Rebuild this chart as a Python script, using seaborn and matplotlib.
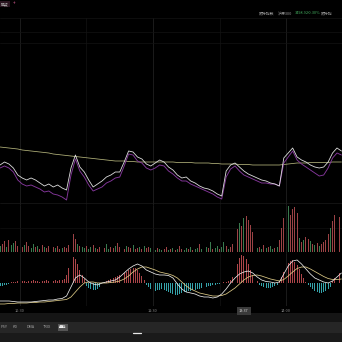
import numpy as np
import matplotlib
matplotlib.use("Agg")
import matplotlib.pyplot as plt
import seaborn as sns
from matplotlib.patches import Rectangle
from matplotlib.lines import Line2D

# ---------------- data ----------------
# time axis: one slot per trading minute (visible window ~10:21 -> 14:25, lunch removed)
tick_pos = [9, 69, 129]
tick_labels = ["10:30", "11:30", "14:00"]
cursor_pos = 110
cursor_label = "13:37"

# intraday lines, sampled every 2 minutes (relative units)
price = [0.35, 0.38, 0.36, 0.32, 0.25, 0.22, 0.20, 0.22, 0.20, 0.17,
         0.14, 0.16, 0.13, 0.15, 0.12, 0.10, 0.32, 0.45, 0.33, 0.28,
         0.20, 0.13, 0.16, 0.19, 0.23, 0.25, 0.28, 0.28, 0.38, 0.49,
         0.48, 0.43, 0.41, 0.36, 0.34, 0.37, 0.40, 0.38, 0.33, 0.30,
         0.25, 0.22, 0.23, 0.19, 0.17, 0.14, 0.12, 0.11, 0.09, 0.06,
         0.04, 0.29, 0.35, 0.37, 0.33, 0.29, 0.26, 0.24, 0.22, 0.20,
         0.19, 0.17, 0.16, 0.14, 0.42, 0.47, 0.52, 0.43, 0.40, 0.38,
         0.35, 0.33, 0.32, 0.33, 0.38, 0.47, 0.52, 0.49]
index_line = [0.32, 0.34, 0.32, 0.28, 0.20, 0.16, 0.14, 0.15, 0.13, 0.11,
              0.08, 0.09, 0.06, 0.05, 0.03, 0.00, 0.25, 0.41, 0.29, 0.23,
              0.15, 0.09, 0.11, 0.13, 0.17, 0.19, 0.22, 0.23, 0.34, 0.46,
              0.45, 0.39, 0.37, 0.32, 0.30, 0.32, 0.35, 0.34, 0.29, 0.26,
              0.22, 0.19, 0.19, 0.16, 0.14, 0.12, 0.10, 0.08, 0.06, 0.03,
              0.01, 0.23, 0.31, 0.34, 0.29, 0.25, 0.23, 0.21, 0.19, 0.17,
              0.17, 0.16, 0.16, 0.14, 0.37, 0.43, 0.49, 0.40, 0.36, 0.33,
              0.30, 0.27, 0.24, 0.25, 0.32, 0.42, 0.47, 0.45]
avg_line = [0.530, 0.525, 0.520, 0.515, 0.510, 0.500, 0.495, 0.490, 0.485, 0.480,
            0.475, 0.470, 0.460, 0.455, 0.450, 0.445, 0.440, 0.435, 0.430, 0.425,
            0.420, 0.415, 0.410, 0.405, 0.400, 0.395, 0.390, 0.390, 0.390, 0.385,
            0.385, 0.380, 0.380, 0.380, 0.380, 0.380, 0.380, 0.380, 0.380, 0.380,
            0.375, 0.375, 0.375, 0.375, 0.370, 0.370, 0.370, 0.370, 0.365, 0.365,
            0.360, 0.360, 0.360, 0.360, 0.355, 0.355, 0.355, 0.350, 0.350, 0.350,
            0.350, 0.350, 0.350, 0.350, 0.355, 0.360, 0.365, 0.370, 0.370, 0.370,
            0.375, 0.375, 0.375, 0.375, 0.375, 0.380, 0.380, 0.380]

# per-minute volume and direction (1 = up/red, 0 = down/green)
volume = [6, 8, 11, 5, 12, 7, 9, 11, 6, 8,
          5, 7, 10, 6, 4, 8, 5, 6, 3, 7,
          5, 4, 6, 3, 5, 4, 6, 3, 4, 5,
          4, 7, 12, 18, 13, 8, 6, 5, 4, 6,
          3, 5, 7, 4, 3, 5, 6, 4, 8, 3,
          5, 4, 6, 9, 5, 4, 3, 6, 5, 4,
          7, 3, 4, 5, 3, 6, 4, 5, 4, 3,
          2, 4, 3, 2, 3, 5, 2, 3, 4, 2,
          3, 6, 3, 2, 4, 3, 5, 2, 3, 4,
          8, 3, 2, 5, 4, 10, 3, 4, 6, 3,
          5, 10, 6, 3, 5, 8, 15, 24, 30, 27,
          35, 37, 33, 28, 20, 6, 4, 5, 3, 7,
          4, 5, 6, 3, 4, 5, 12, 25, 35, 42,
          47, 38, 44, 46, 40, 14, 10, 12, 15, 13,
          11, 8, 7, 9, 6, 8, 10, 12, 18, 25,
          32, 38, 42, 36]
vol_up = [0, 1, 1, 0, 1, 0, 0, 1, 1, 0,
          1, 0, 1, 1, 0, 0, 1, 0, 1, 1,
          0, 1, 1, 0, 1, 0, 1, 1, 0, 1,
          1, 1, 1, 1, 1, 0, 1, 0, 0, 1,
          0, 0, 1, 0, 1, 1, 0, 1, 0, 0,
          1, 1, 0, 1, 1, 0, 1, 0, 1, 1,
          0, 1, 1, 0, 1, 0, 1, 1, 0, 1,
          0, 1, 0, 0, 1, 1, 0, 1, 0, 1,
          0, 1, 1, 0, 0, 1, 0, 1, 0, 0,
          1, 0, 1, 0, 1, 0, 1, 0, 0, 1,
          0, 0, 1, 0, 1, 1, 1, 1, 0, 1,
          0, 1, 1, 1, 1, 0, 0, 1, 0, 1,
          0, 1, 0, 0, 1, 0, 1, 1, 1, 1,
          0, 1, 1, 1, 1, 0, 1, 0, 1, 1,
          0, 1, 0, 1, 0, 1, 1, 1, 1, 0,
          1, 1, 1, 1]

# MACD lines sampled every 2 minutes, histogram per minute (x0.01)
macd_dif = [-0.18, -0.18, -0.18, -0.185, -0.19, -0.19, -0.19, -0.19, -0.185, -0.18,
            -0.175, -0.17, -0.17, -0.16, -0.155, -0.13, -0.04, 0.05, 0.08, 0.05,
            0.01, -0.01, -0.02, 0.00, 0.01, 0.02, 0.03, 0.06, 0.10, 0.14,
            0.17, 0.19, 0.17, 0.13, 0.11, 0.09, 0.08, 0.08, 0.075, 0.05,
            -0.01, -0.06, -0.09, -0.10, -0.11, -0.13, -0.14, -0.14, -0.15, -0.14,
            -0.11, -0.06, 0.00, 0.05, 0.09, 0.11, 0.12, 0.10, 0.06, 0.03,
            0.015, 0.01, 0.00, 0.01, 0.09, 0.17, 0.22, 0.23, 0.19, 0.14,
            0.09, 0.05, 0.03, 0.01, 0.00, 0.02, 0.06, 0.10]
macd_dea = [-0.21, -0.21, -0.205, -0.205, -0.20, -0.20, -0.20, -0.195, -0.195, -0.19,
            -0.19, -0.185, -0.18, -0.175, -0.17, -0.165, -0.14, -0.09, -0.04, 0.00,
            0.01, 0.01, 0.00, 0.00, 0.00, 0.005, 0.01, 0.02, 0.04, 0.07,
            0.11, 0.14, 0.16, 0.16, 0.145, 0.13, 0.11, 0.10, 0.09, 0.075,
            0.05, 0.01, -0.03, -0.06, -0.08, -0.10, -0.11, -0.12, -0.13, -0.13,
            -0.125, -0.11, -0.08, -0.05, -0.01, 0.03, 0.06, 0.075, 0.08, 0.07,
            0.055, 0.04, 0.03, 0.02, 0.035, 0.07, 0.11, 0.145, 0.16, 0.16,
            0.14, 0.115, 0.09, 0.065, 0.045, 0.035, 0.035, 0.04]
macd_hist = [-3, -3, -2, -2, -1, 1, 1, 1, 2, 1,
             2, 2, 1, 2, 2, 3, 2, 2, 1, 2,
             2, 3, 2, 2, 2, 3, 2, 3, 3, 4,
             8, 15, 22, 26, 24, 19, 13, 8, 4, -3,
             -5, -6, -7, -7, -6, -4, -2, 1, 2, 3,
             4, 5, 6, 7, 8, 9, 10, 11, 13, 14,
             15, 15, 13, 10, 7, 3, -2, -4, -6, -7,
             -8, -7, -7, -6, -7, -8, -9, -10, -11, -12,
             -12, -11, -10, -9, -9, -8, -8, -7, -7, -6,
             -6, -5, -5, -4, -3, -3, -2, -2, -1, -1,
             0, 1, 1, 2, 3, 6, 12, 19, 25, 28,
             27, 24, 19, 13, 8, 4, 2, -2, -3, -4,
             -5, -5, -5, -4, -3, -2, 2, 6, 11, 16,
             20, 22, 23, 21, 18, 14, 9, 5, 1, -2,
             -4, -6, -8, -9, -10, -10, -9, -8, -6, -4,
             2, 5, 7, 10]

index_label = "跟踪指数"
index_name = "沪深300"
index_value = "3498.92"
index_change = "-0.30%"
tabs = ["PSY", "KD", "DMA", "TRIX", "量能"]
tab_x = [4.5, 15, 31, 46.5, 63]

# ---------------- style ----------------
sns.set_theme(style="dark", rc={"axes.facecolor": "black", "figure.facecolor": "black",
                                "savefig.facecolor": "black"})
plt.rcParams['font.family'] = ['Noto Sans CJK SC', 'DejaVu Sans']

W = H = 342
fig = plt.figure(figsize=(3.42, 3.42), dpi=100, facecolor="black")


def fx(px):
    return px / W


def fy(py):
    return 1 - py / H


def ax_at(top, bottom):
    ax = fig.add_axes([0, fy(bottom), 1, (bottom - top) / H])
    ax.set_facecolor("black")
    for s in ax.spines.values():
        s.set_visible(False)
    ax.set_xlim(-0.02, 154.26)
    ax.set_xticks([])
    ax.set_yticks([])
    ax.grid(False)
    return ax


ax_p = ax_at(18, 205)
ax_v = ax_at(205, 253)
ax_m = ax_at(253, 306)

for ax in (ax_p, ax_v, ax_m):
    for xp in tick_pos:
        ax.axvline(xp, color="#262626", lw=0.5, zorder=0)
    for xp in (39, 99):
        ax.axvline(xp, color="#141414", lw=0.5, zorder=0)

# main panel
x2 = np.arange(len(price)) * 2
ax_p.set_ylim(-0.05, 1.82)
for yv in (1.82, 1.68, 1.57):
    ax_p.axhline(yv, color="#141414", lw=0.5, zorder=0)
ax_p.axhline(-0.03, color="#1a1a1a", lw=0.5, zorder=0)
sns.lineplot(x=np.arange(len(avg_line)) * 2, y=avg_line, ax=ax_p, color="#b5b57c", lw=0.55)
sns.lineplot(x=np.arange(len(index_line)) * 2, y=index_line, ax=ax_p, color="#85379c", lw=0.65)
sns.lineplot(x=x2, y=price, ax=ax_p, color="#dcdcdc", lw=0.6)
ax_p.set_xlim(-0.02, 154.26)

# volume panel
xv = np.arange(len(volume))
vcol = ["#9c4245" if u else "#397a4e" for u in vol_up]
ax_v.bar(xv, volume, width=0.42, color=vcol, linewidth=0)
ax_v.set_ylim(-1, 48)
ax_v.axhline(-0.5, color="#1a1a1a", lw=0.5, zorder=0)
ax_v.axhline(25, color="#111111", lw=0.5, zorder=0)

# MACD panel
xm = np.arange(len(macd_hist))
hist = np.array(macd_hist) / 100.0
hcol = ["#ad4549" if h >= 0 else "#35a3aa" for h in hist]
ax_m.bar(xm, hist, width=0.42, color=hcol, linewidth=0)
sns.lineplot(x=np.arange(len(macd_dea)) * 2, y=macd_dea, ax=ax_m, color="#ddca86", lw=0.55)
sns.lineplot(x=np.arange(len(macd_dif)) * 2, y=macd_dif, ax=ax_m, color="#ececec", lw=0.55)
ax_m.set_ylim(-0.23, 0.30)
ax_m.set_xlim(-0.02, 154.26)
ax_m.set_xticks(tick_pos)
ax_m.set_xticklabels(tick_labels, fontsize=2.8, color="#8c8c8c")
ax_m.tick_params(axis="x", length=0, pad=2.2)

for ax in (ax_p, ax_v, ax_m):
    ax.set_xlabel("")
    ax.set_ylabel("")
    if ax.get_legend():
        ax.get_legend().remove()

# cursor time label
cx = fx((cursor_pos + 0.02) * 342 / 154.28)
fig.text(cx, fy(311), cursor_label, fontsize=2.8, color="#d0d0d0", ha="center", va="center",
         bbox=dict(boxstyle="square,pad=0.5", fc="#3a3a3a", ec="none"))

# header texts
fig.text(fx(1), fy(4), "观点", fontsize=2.8, color="#b8b8b8", ha="left", va="center",
         bbox=dict(boxstyle="square,pad=0.3", fc="#2a1520", ec="none"))
fig.text(fx(13), fy(4), "+", fontsize=3.2, color="#e0609a", ha="left", va="center")
fig.text(fx(259), fy(13.5), index_label, fontsize=2.8, color="#9a9a9a", ha="left", va="center")
fig.text(fx(278), fy(13.5), index_name, fontsize=2.8, color="#9a9a9a", ha="left", va="center")
fig.text(fx(295), fy(13.5), index_value, fontsize=2.8, color="#44b060", ha="left", va="center")
fig.text(fx(308), fy(13.5), index_change, fontsize=2.8, color="#44b060", ha="left", va="center")
fig.text(fx(321), fy(13.5), "跟踪指", fontsize=2.8, color="#9a9a9a", ha="left", va="center")

# bottom tab bar
fig.add_artist(Rectangle((0, fy(322)), 1, 9 / H, transform=fig.transFigure, fc="#151515", ec="none", zorder=0))
fig.add_artist(Rectangle((0, fy(333)), 1, 11 / H, transform=fig.transFigure, fc="#262626", ec="none", zorder=0))
fig.add_artist(Rectangle((0, 0), 1, 9 / H, transform=fig.transFigure, fc="#1a1a1a", ec="none", zorder=0))
for lab, tx in zip(tabs, tab_x):
    if lab == "量能":
        fig.text(fx(tx), fy(327.5), lab, fontsize=2.8, color="#f0f0f0", ha="center", va="center",
                 bbox=dict(boxstyle="square,pad=0.4", fc="#555555", ec="none"))
    else:
        fig.text(fx(tx), fy(327.5), lab, fontsize=2.8, color="#a0a0a0", ha="center", va="center")
fig.add_artist(Line2D([fx(133), fx(141)], [fy(332.5), fy(332.5)], transform=fig.transFigure,
                      color="#e8e8e8", lw=0.9))

fig.savefig("out.png", dpi=100, facecolor="black")
